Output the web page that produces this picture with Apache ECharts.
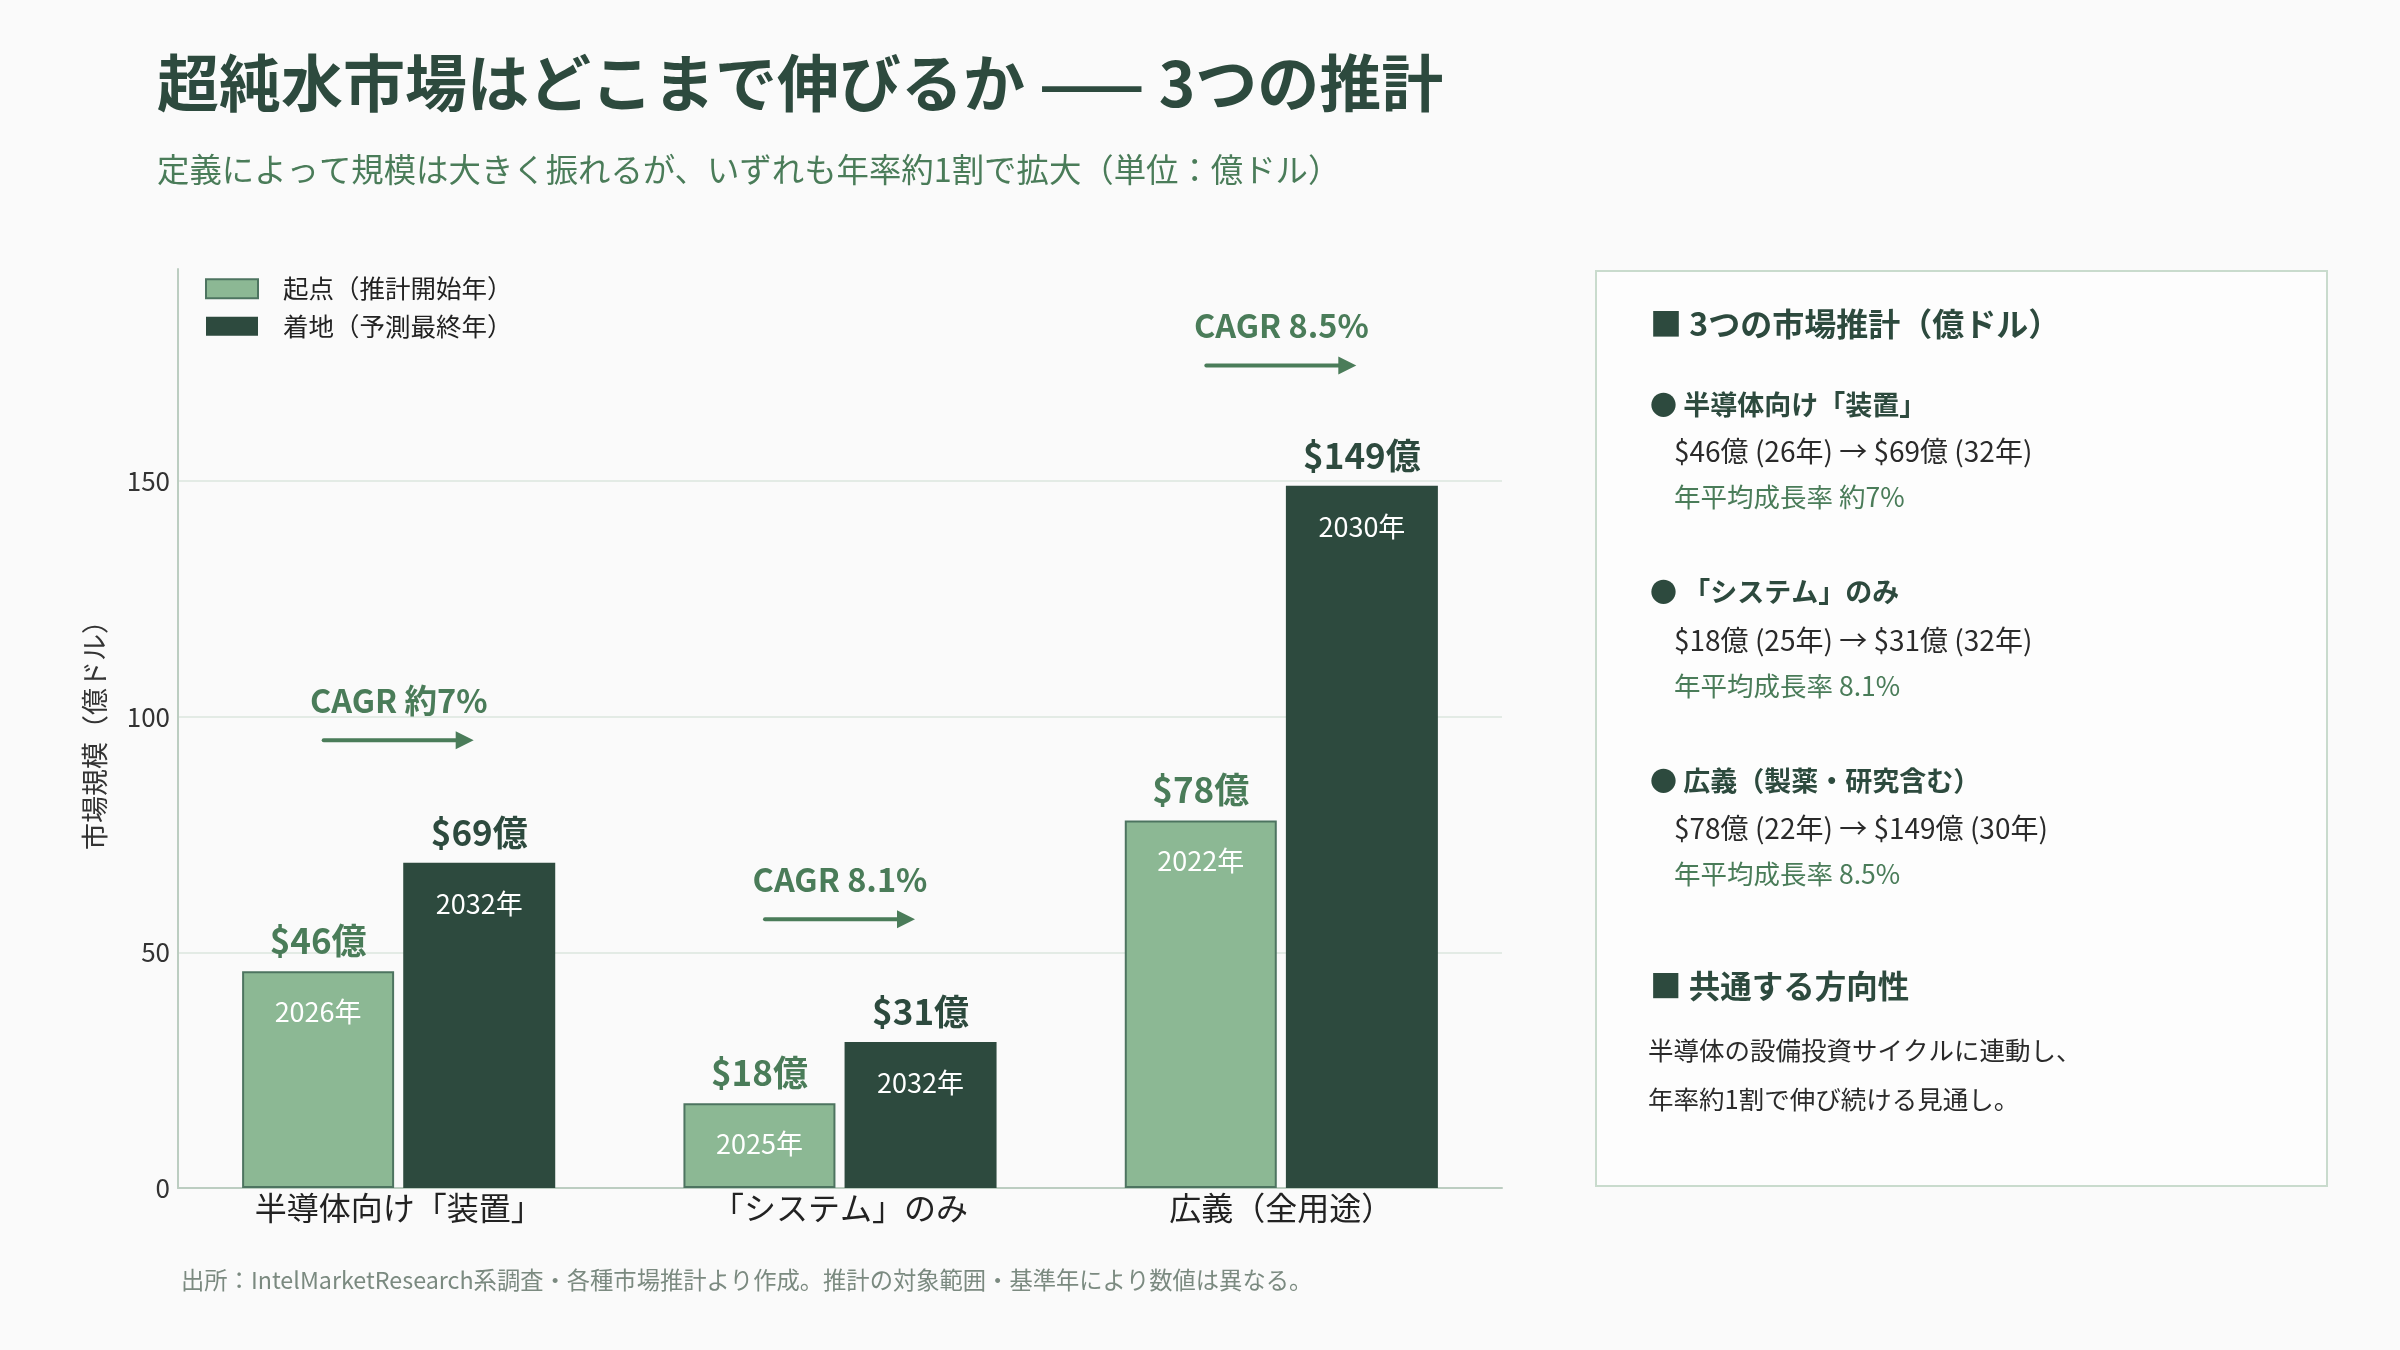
<!DOCTYPE html>
<html lang="ja">

<head>
  <meta charset="UTF-8">
  <title>超純水市場の推計</title>
  <script src="https://cdn.jsdelivr.net/npm/echarts@6.0.0/dist/echarts.min.js"></script>
  <style>
    html, body { margin: 0; padding: 0; background: #fafafa; }
    #main { width: 2400px; height: 1350px; }
  </style>
</head>

<body>
  <div id="main"></div>
  <script>
    // data
    let categories = ['半導体向け「装置」', '「システム」のみ', '広義（全用途）'];
    let startValues = [46, 18, 78];
    let endValues = [69, 31, 149];
    let startYears = ['2026年', '2025年', '2022年'];
    let endYears = ['2032年', '2032年', '2030年'];
    let cagrLabels = ['CAGR 約7%', 'CAGR 8.1%', 'CAGR 8.5%'];
    let arrowLevels = [95, 57, 174.5];
    let yTicks = [0, 50, 100, 150];

    const DARK = '#2d4a3e';
    const MID = '#4a7c59';
    const LIGHT = '#8cb894';
    const FONT = '"Noto Sans CJK JP", "Noto Sans", sans-serif';

    function barLabel(years, valueColor) {
      return {
        show: true,
        position: 'insideTop',
        distance: 0,
        offset: [0, -66],
        fontFamily: FONT,
        formatter: p => '{v|$' + p.value + '億}\n{y|' + years[p.dataIndex] + '}',
        rich: {
          v: { fontSize: 35, fontWeight: 'bold', color: valueColor, lineHeight: 71, fontFamily: FONT },
          y: { fontSize: 27, color: '#ffffff', lineHeight: 71, fontFamily: FONT }
        }
      };
    }

    // side panel text
    let panelLines = [
      { text: '■ 3つの市場推計（億ドル）', x: 1650, y: 324, size: 32, bold: true, color: DARK },
      { text: '● 半導体向け「装置」', x: 1650, y: 405, size: 27, bold: true, color: DARK },
      { text: '$46億 (26年) → $69億 (32年)', x: 1674, y: 451, size: 28, color: '#2a2a2a' },
      { text: '年平均成長率 約7%', x: 1674, y: 497, size: 26.5, color: MID },
      { text: '● 「システム」のみ', x: 1650, y: 592, size: 27, bold: true, color: DARK },
      { text: '$18億 (25年) → $31億 (32年)', x: 1674, y: 640, size: 28, color: '#2a2a2a' },
      { text: '年平均成長率 8.1%', x: 1674, y: 686, size: 26.5, color: MID },
      { text: '● 広義（製薬・研究含む）', x: 1650, y: 781, size: 27, bold: true, color: DARK },
      { text: '$78億 (22年) → $149億 (30年)', x: 1674, y: 828, size: 28, color: '#2a2a2a' },
      { text: '年平均成長率 8.5%', x: 1674, y: 874, size: 26.5, color: MID },
      { text: '■ 共通する方向性', x: 1650, y: 986, size: 31.5, bold: true, color: DARK },
      { text: '半導体の設備投資サイクルに連動し、', x: 1648, y: 1050, size: 25.5, color: '#2a2a2a' },
      { text: '年率約1割で伸び続ける見通し。', x: 1648, y: 1099, size: 25.5, color: '#2a2a2a' }
    ];

    let graphics = [
      {
        type: 'rect',
        shape: { x: 1596, y: 271, width: 731, height: 915 },
        style: { fill: '#fdfdfd', stroke: '#c9dbcd', lineWidth: 2 },
        z: 0
      },
      {
        type: 'text',
        x: 181, y: 1280,
        style: {
          text: '出所：IntelMarketResearch系調査・各種市場推計より作成。推計の対象範囲・基準年により数値は異なる。',
          fill: '#7b8a80', fontSize: 23.3, fontFamily: FONT, verticalAlign: 'middle'
        }
      }
    ].concat(panelLines.map(l => ({
      type: 'text',
      x: l.x, y: l.y,
      z: 2,
      style: {
        text: l.text, fill: l.color, fontSize: l.size,
        fontWeight: l.bold ? 'bold' : 'normal',
        fontFamily: FONT, verticalAlign: 'middle'
      }
    })));

    let chart = echarts.init(document.getElementById('main'));
    let option = {
      backgroundColor: '#fafafa',
      textStyle: { fontFamily: FONT },
      title: {
        text: '超純水市場はどこまで伸びるか —— 3つの推計',
        subtext: '定義によって規模は大きく振れるが、いずれも年率約1割で拡大（単位：億ドル）',
        left: 152,
        top: 44,
        itemGap: 35,
        textStyle: { fontSize: 62, fontWeight: 'bold', color: DARK, lineHeight: 68, fontFamily: FONT },
        subtextStyle: { fontSize: 32.4, color: MID, lineHeight: 36, fontFamily: FONT }
      },
      legend: {
        orient: 'vertical',
        left: 200,
        top: 271,
        icon: 'rect',
        itemWidth: 52,
        itemHeight: 19,
        itemGap: 12,
        textStyle: { fontSize: 25.5, color: '#222', fontFamily: FONT, padding: [0, 0, 0, 20] },
        data: ['起点（推計開始年）', '着地（予測最終年）']
      },
      grid: { left: 178, right: 898, top: 269, bottom: 162 },
      xAxis: {
        type: 'category',
        data: categories,
        axisLine: { lineStyle: { color: '#bccdc1', width: 2 } },
        axisTick: { show: false },
        axisLabel: { fontSize: 32, color: '#222', margin: 4, fontFamily: FONT }
      },
      yAxis: {
        type: 'value',
        min: 0,
        max: 195,
        interval: 50,
        name: '市場規模（億ドル）',
        nameLocation: 'middle',
        nameGap: 70,
        nameTextStyle: { fontSize: 27, color: '#333', fontFamily: FONT },
        axisLine: { show: true, lineStyle: { color: '#bccdc1', width: 2 } },
        axisTick: { show: false },
        axisLabel: {
          fontSize: 26, color: '#333', margin: 8, showMaxLabel: false,
          formatter: v => (yTicks.indexOf(v) >= 0 ? String(v) : '')
        },
        splitLine: { showMaxLine: false, lineStyle: { color: '#e3ebe5', width: 2 } }
      },
      series: [
        {
          type: 'bar',
          name: '起点（推計開始年）',
          data: startValues,
          barWidth: 152,
          barGap: '6%',
          itemStyle: { color: LIGHT, borderColor: '#4d7460', borderWidth: 2 },
          label: barLabel(startYears, MID)
        },
        {
          type: 'bar',
          name: '着地（予測最終年）',
          data: endValues,
          barWidth: 152,
          barGap: '6%',
          itemStyle: { color: DARK },
          label: barLabel(endYears, DARK)
        },
        {
          type: 'custom',
          name: 'cagr',
          data: categories.map((c, i) => [i, arrowLevels[i]]),
          z: 5,
          renderItem: (params, api) => {
            let p = api.coord([api.value(0), api.value(1)]);
            let x = p[0], y = p[1];
            return {
              type: 'group',
              children: [
                {
                  type: 'line',
                  shape: { x1: x - 75, y1: y, x2: x + 60, y2: y },
                  style: { stroke: MID, lineWidth: 4, lineCap: 'round' }
                },
                {
                  type: 'polygon',
                  shape: { points: [[x + 57, y - 9], [x + 75, y], [x + 57, y + 9]] },
                  style: { fill: MID }
                },
                {
                  type: 'text',
                  x: x, y: y - 40,
                  style: {
                    text: cagrLabels[params.dataIndex], fill: MID, fontSize: 32.5,
                    fontWeight: 'bold', fontFamily: FONT, align: 'center', verticalAlign: 'middle'
                  }
                }
              ]
            };
          }
        }
      ],
      graphic: graphics
    };

    chart.setOption(option);
  </script>
</body>

</html>
